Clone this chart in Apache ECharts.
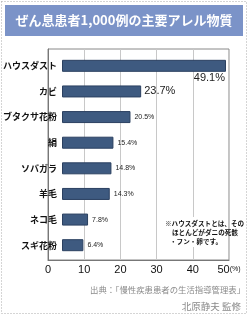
<!DOCTYPE html>
<html>
<head>
<meta charset="utf-8">
<script src="https://cdn.jsdelivr.net/npm/echarts@6/dist/echarts.min.js"></script>
<style>
  html, body { margin: 0; padding: 0; background: #fff; }
  #chart { width: 249px; height: 316px; }
</style>
</head>
<body>
<div id="chart"></div>
<script>
  // データ
  const categories = ['ハウスダスト', 'カビ', 'ブタクサ花粉', '絹', 'ソバガラ', '羊毛', 'ネコ毛', 'スギ花粉'];
  const values = [49.1, 23.7, 20.5, 15.4, 14.8, 14.3, 7.8, 6.4];
  const xTicks = [0, 10, 20, 30, 40, 50];
  const titleText = 'ぜん息患者1,000例の主要アレル物質';
  const noteLines = ['※ハウスダストとは、その', 'ほとんどがダニの死骸', '・フン・卵です。'];
  const sourceLines = ['出典：「慢性疾患患者の生活指導管理表」', '北原静夫 監修'];

  const chart = echarts.init(document.getElementById('chart'));
  const font = '"Noto Sans CJK JP", sans-serif';
  const pct = (p) => p.value.toFixed(1) + '%';

  // ラベルの見た目（上位2つは大きく）
  const barData = values.map((v, i) => {
    let label = { show: true, position: 'right', distance: 4, fontSize: 7, color: '#222', fontFamily: 'Liberation Sans, sans-serif', formatter: pct };
    if (i === 0) {
      label = { show: true, position: ['100%', '100%'], align: 'right', verticalAlign: 'top', offset: [-1, 1], fontSize: 11, color: '#222', fontFamily: 'Liberation Sans, sans-serif', formatter: pct };
    } else if (i === 1) {
      label = { show: true, position: 'right', distance: 3, fontSize: 11, color: '#222', fontFamily: 'Liberation Sans, sans-serif', formatter: pct };
    }
    return { value: v, label: label };
  });

  const option = {
    animation: false,
    grid: [
      { left: 48, right: 20, top: 53, bottom: 58 },
      { left: 48, right: 20, top: 49, bottom: 56, show: true, borderColor: '#888', borderWidth: 1 },
    ],
    xAxis: [
      {
        gridIndex: 0, type: 'value', min: 0, max: 50, interval: 10,
        axisLabel: { show: false }, axisLine: { show: false }, axisTick: { show: false }, splitLine: { show: false },
      },
      {
        gridIndex: 1, type: 'value', min: 0, max: 50, interval: 10,
        axisLine: { show: true, lineStyle: { color: '#777' } },
        axisTick: { show: false },
        splitLine: { show: true, lineStyle: { color: '#c8c8c8' } },
        axisLabel: {
          margin: 4, fontSize: 11, color: '#111', fontFamily: 'Liberation Sans, sans-serif',
          formatter: (v) => (v === 50 ? '50{u|(%)}' : String(v)),
          rich: { u: { fontSize: 7, color: '#111' } },
        },
      },
    ],
    yAxis: [
      {
        gridIndex: 0, type: 'category', data: categories, inverse: true,
        axisLine: { show: false }, axisTick: { show: false },
        axisLabel: { margin: 5, fontSize: 9, color: '#111', fontFamily: font, fontWeight: 'bold' },
      },
      {
        gridIndex: 1, type: 'value', show: true,
        axisLine: { show: true, lineStyle: { color: '#777' } }, axisTick: { show: false },
        axisLabel: { show: false }, splitLine: { show: false },
      },
    ],
    series: [
      {
        type: 'bar', xAxisIndex: 0, yAxisIndex: 0, data: barData, barWidth: 12,
        itemStyle: { color: '#3e5a80', borderColor: '#2b4060', borderWidth: 1 },
      },
    ],
    graphic: [
      // 点線の外枠
      { type: 'rect', shape: { x: 1.5, y: 1.5, width: 245, height: 312 }, style: { fill: 'none', stroke: '#aaa', lineWidth: 1, lineDash: [1, 2] }, silent: true },
      // タイトル帯
      { type: 'rect', shape: { x: 5, y: 5, width: 238, height: 31 }, style: { fill: '#7b93c8' }, z: 10 },
      { type: 'text', x: 124, y: 20.5, style: { text: titleText, fill: '#fff', fontSize: 13, fontWeight: 'bold', fontFamily: font, align: 'center', verticalAlign: 'middle' }, z: 11 },
      // 注記（白地で目盛線を隠す）
      { type: 'rect', shape: { x: 163, y: 217, width: 62, height: 30 }, style: { fill: '#fff' }, z: 10 },
      { type: 'text', x: 165, y: 223, style: { text: noteLines[0], fill: '#111', fontSize: 6.6, fontWeight: 'bold', fontFamily: font, verticalAlign: 'middle' }, z: 11 },
      { type: 'text', x: 172, y: 232, style: { text: noteLines[1], fill: '#111', fontSize: 6.6, fontWeight: 'bold', fontFamily: font, verticalAlign: 'middle' }, z: 11 },
      { type: 'text', x: 170, y: 241, style: { text: noteLines[2], fill: '#111', fontSize: 6.6, fontWeight: 'bold', fontFamily: font, verticalAlign: 'middle' }, z: 11 },
      // 出典
      { type: 'text', x: 245, y: 290, style: { text: sourceLines[0], fill: '#8a8a8a', fontSize: 8.4, fontFamily: font, align: 'right', verticalAlign: 'middle' }, z: 11 },
      { type: 'text', x: 241, y: 306, style: { text: sourceLines[1], fill: '#8a8a8a', fontSize: 9.5, fontFamily: font, align: 'right', verticalAlign: 'middle' }, z: 11 },
    ],
  };

  chart.setOption(option);
</script>
</body>
</html>
